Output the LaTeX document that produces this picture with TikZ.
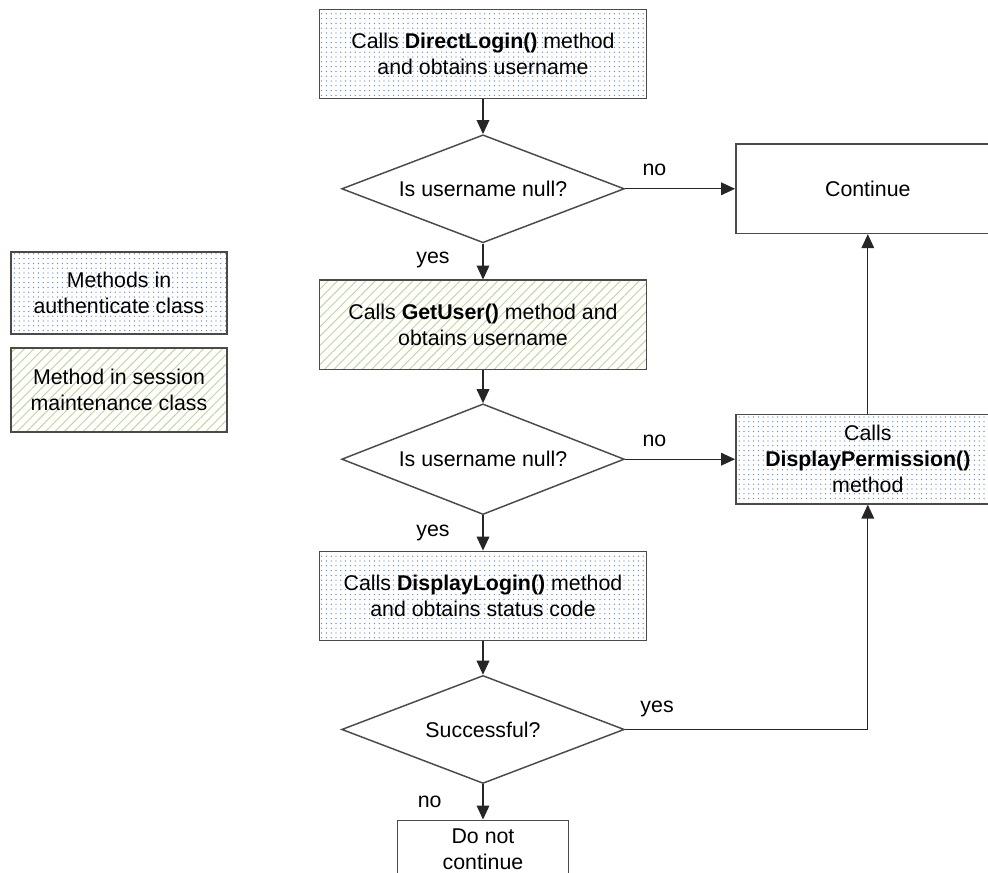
\documentclass[tikz,border=0pt]{standalone}
\usepackage{fontspec}
\setmainfont{Liberation Sans}
\usetikzlibrary{positioning}
\usetikzlibrary{shapes.geometric}
\usetikzlibrary{arrows.meta}
\usetikzlibrary{patterns.meta}

\definecolor{dotblue}{HTML}{5B80C4}
\definecolor{hatchgreen}{HTML}{C2D49A}
\definecolor{edgegray}{HTML}{4A4A4A}

\tikzset{
  box/.style={rectangle, draw=edgegray, line width=1.1pt, align=center,
    minimum width=245pt, minimum height=67pt, inner sep=2pt},
  authbox/.style={box, pattern={Dots[radius=0.5pt, distance=3.6pt]}, pattern color=dotblue},
  sessbox/.style={box, pattern={Lines[angle=45, distance=5pt, line width=0.7pt]}, pattern color=hatchgreen},
  decision/.style={diamond, draw=edgegray, line width=1.1pt, aspect=2.6, inner sep=0pt,
    minimum width=212pt, minimum height=81pt, align=center},
  arr/.style={draw=black!85, line width=1pt, -{Triangle[length=10.5pt, width=9.5pt]}},
  lbl/.style={inner sep=0pt}
}

\begin{document}
\begin{tikzpicture}[x=0.75pt, y=-0.75pt, font=\fontsize{16}{19.5}\selectfont]
  \useasboundingbox (0,0) rectangle (988,873);

  % main column
  \node(direct)[authbox] at (483,54) {Calls \textbf{DirectLogin()} method\\and obtains username};
  \node(null1)[decision, below=26pt of direct] {Is username null?};
  \node(getuser)[sessbox, below=27pt of null1] {Calls \textbf{GetUser()} method and\\obtains username};
  \node(null2)[decision, minimum height=83pt, below=25pt of getuser] {Is username null?};
  \node(displogin)[authbox, below=26.5pt of null2] {Calls \textbf{DisplayLogin()} method\\and obtains status code};
  \node(success)[decision, below=25pt of displogin] {Successful?};
  \node(stop)[box, minimum width=128pt, minimum height=44pt, below=26.5pt of success] {Do not\\continue};

  % right column
  \node(cont)[box, minimum width=198pt, right=82.5pt of null1] {Continue};
  \node(perm)[authbox, minimum width=198pt, right=82.5pt of null2] {Calls\\\textbf{DisplayPermission()}\\method};

  % legend
  \node(leg1)[authbox, minimum width=162pt, minimum height=61.5pt] at (119,293) {Methods in\\authenticate class};
  \node(leg2)[sessbox, minimum width=162pt, minimum height=63pt, below=9.5pt of leg1] {Method in session\\maintenance class};

  % branch labels
  \node(no1)[lbl] at ([xshift=22pt, yshift=14pt]null1.east) {no};
  \node(yes1)[lbl] at ([xshift=-37.5pt, yshift=-12pt]null1.south) {yes};
  \node(no2)[lbl] at ([xshift=22pt, yshift=14pt]null2.east) {no};
  \node(yes2)[lbl] at ([xshift=-37.5pt, yshift=-13pt]null2.south) {yes};
  \node(yes3)[lbl] at ([xshift=24pt, yshift=15pt]success.east) {yes};
  \node(no3)[lbl] at ([xshift=-40pt, yshift=-13pt]success.south) {no};

  \draw[arr](direct)--(null1);
  \draw[arr](null1)--(cont);
  \draw[arr](null1)--(getuser);
  \draw[arr](getuser)--(null2);
  \draw[arr](null2)--(perm);
  \draw[arr](perm)--(cont);
  \draw[arr](null2)--(displogin);
  \draw[arr](displogin)--(success);
  \draw[arr](success)--(stop);
  \draw[arr](success)-|(perm);

\end{tikzpicture}
\end{document}
